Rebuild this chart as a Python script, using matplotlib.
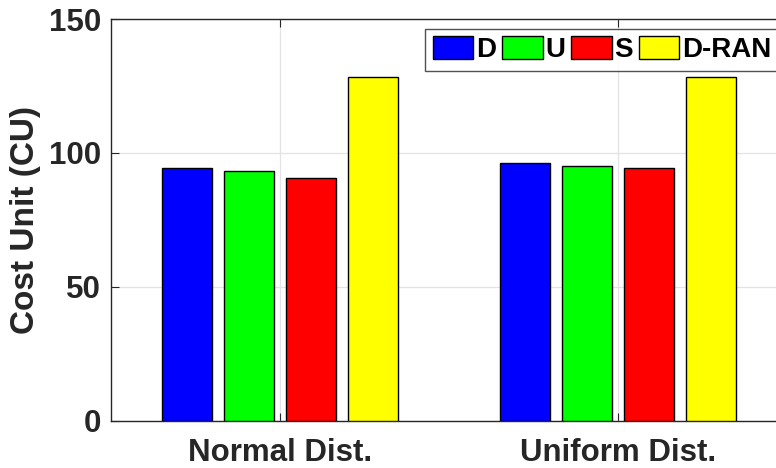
import numpy as np
import matplotlib.pyplot as plt

plt.rcParams['font.family'] = ['Liberation Sans', 'DejaVu Sans']
plt.rcParams['font.weight'] = 'bold'

groups = ['Normal Dist.', 'Uniform Dist.']
schemes = ['D', 'U', 'S', 'D-RAN']
colors = ['#0000ff', '#00ff00', '#ff0000', '#ffff00']
cost = {
    'D': [94.3, 96.4],
    'U': [93.2, 95.0],
    'S': [90.7, 94.3],
    'D-RAN': [128.4, 128.4],
}

fig = plt.figure(figsize=(7.76, 4.68), dpi=100)
# axes run a little past the right edge of the canvas
ax = fig.add_axes([111 / 776, 1 - 421 / 468, 676 / 776, 402 / 468])

x = np.arange(1, len(groups) + 1)
step = 0.1834
width = 0.148
for i, (name, c) in enumerate(zip(schemes, colors)):
    ax.bar(x + (i - 1.5) * step, cost[name], width, color=c,
           edgecolor='black', linewidth=1.0, label=name, zorder=3)

ax.set_xlim(0.5, 2.5)
ax.set_ylim(0, 150)
ax.set_yticks([0, 50, 100, 150])
ax.set_xticks(x)
ax.set_xticklabels(groups)
ax.set_ylabel('Cost Unit (CU)', fontsize=24, fontweight='bold',
              color='#262626', labelpad=6)
ax.tick_params(axis='both', labelsize=22.5, colors='#262626', direction='in',
               top=True, right=True, length=6)
ax.tick_params(axis='y', pad=7)
ax.tick_params(axis='x', pad=12)
for lbl in ax.get_xticklabels() + ax.get_yticklabels():
    lbl.set_fontweight('bold')
ax.grid(True, color='#e3e3e3', linewidth=0.9, zorder=0)
ax.set_axisbelow(True)
for sp in ax.spines.values():
    sp.set_color('#262626')
    sp.set_linewidth(1.0)

leg = fig.legend(loc='upper left', bbox_to_anchor=(425 / 776, 1 - 29 / 468),
                 ncol=4, prop={'size': 20, 'weight': 'bold'},
                 frameon=True, fancybox=False,
                 handlelength=1.47, handleheight=0.86, handletextpad=0.1,
                 columnspacing=0.2, borderpad=0.27, borderaxespad=0)
leg.get_frame().set_edgecolor('#262626')
leg.get_frame().set_linewidth(1.0)

fig.savefig('out.png', dpi=100)
